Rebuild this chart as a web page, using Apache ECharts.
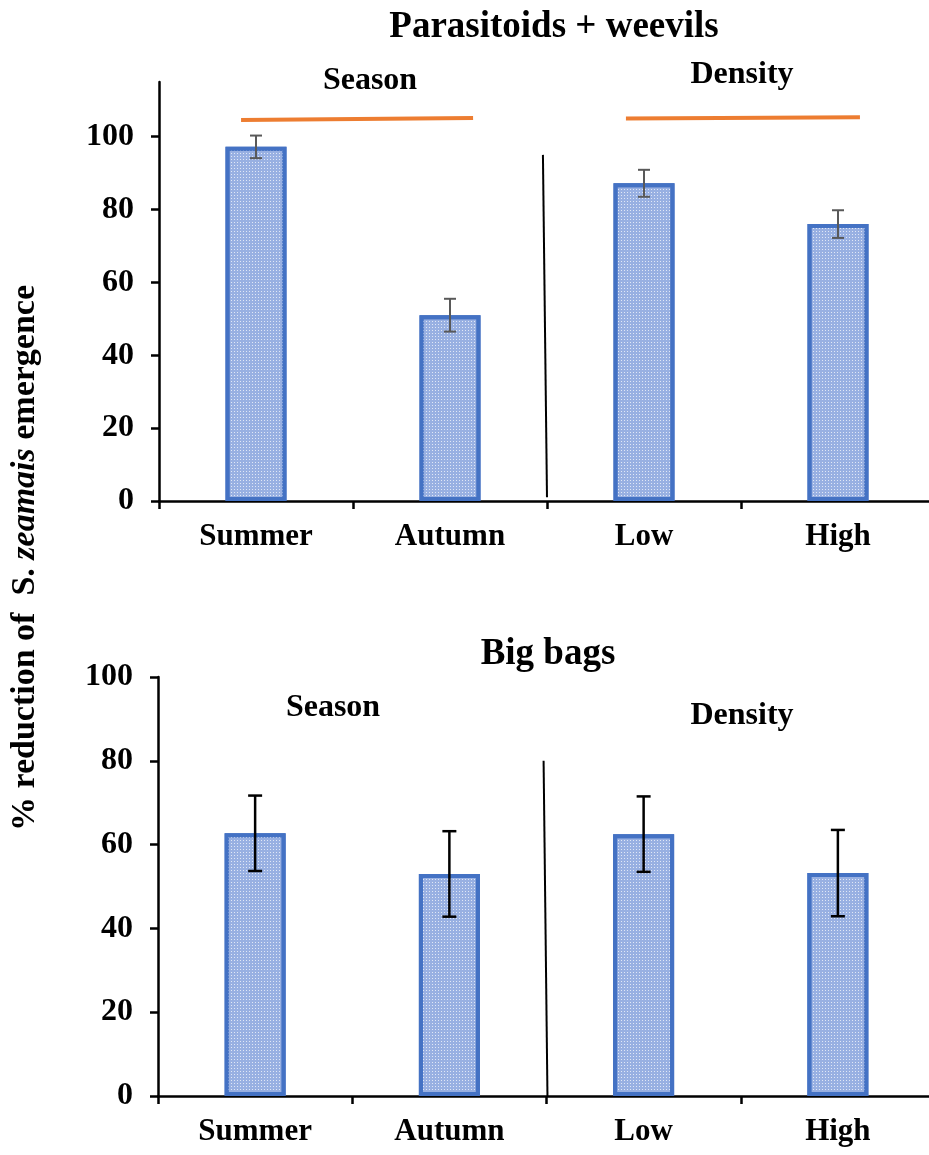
<!DOCTYPE html>
<html>
<head>
<meta charset="utf-8">
<title>S. zeamais emergence</title>
<script src="https://cdn.jsdelivr.net/npm/echarts@6/dist/echarts.min.js"></script>
<style>
  html, body { margin: 0; padding: 0; background: #fff; overflow: hidden; }
  /* plot area runs a few px past the right edge in the original */
  #chart { width: 936px; height: 1155px; }
</style>
</head>
<body>
<div id="chart"></div>
<script>
// categories and values
var categories = ['Summer', 'Autumn', 'Low', 'High'];
var parasitoidMean = [97.2, 51.0, 87.2, 76.0];
var parasitoidErr = [3.1, 4.5, 3.7, 3.8];
var bigBagMean = [62.7, 53.0, 62.5, 53.2];
var bigBagErr = [9.0, 10.2, 9.0, 10.3];
var yTicks = [0, 20, 40, 60, 80, 100];

// annotation lines (hidden 0-4 x scale, y in data units)
var topSeasonBar = [[0.423, 104.6], [1.619, 105.1]];
var topDensityBar = [[2.407, 105.0], [3.613, 105.3]];
var topDivider = [[1.979, 95], [2.0, 1]];
var bottomDivider = [[1.985, 80], [2.005, 0]];

var FONT = '"Liberation Serif", "Times New Roman", serif';

function yAxisOpt(idx, max) {
  return {
    type: 'value', gridIndex: idx, min: 0, max: max,
    axisLine: { show: true, lineStyle: { color: '#000', width: 2.5 } },
    axisTick: { show: true, length: 8, customValues: yTicks, lineStyle: { color: '#000', width: 2.5 } },
    axisLabel: { customValues: yTicks, color: '#000', fontFamily: FONT, fontWeight: 'bold', fontSize: 32, margin: 25 },
    splitLine: { show: false }
  };
}
function catAxisOpt(idx) {
  return {
    type: 'category', gridIndex: idx, data: categories,
    axisLine: { lineStyle: { color: '#000', width: 2.5 } },
    axisTick: { show: true, length: 8, lineStyle: { color: '#000', width: 2.5 } },
    axisLabel: { color: '#000', fontFamily: FONT, fontWeight: 'bold', fontSize: 31, margin: 20 }
  };
}
function hiddenAxis(idx) {
  return { type: 'value', gridIndex: idx, min: 0, max: 4, show: false };
}

function barSeries(idx, values) {
  return {
    type: 'bar', xAxisIndex: idx * 2, yAxisIndex: idx, data: values, barWidth: 61,
    itemStyle: {
      color: '#98b0e2', borderColor: '#4472c4', borderWidth: 4,
      decal: { symbol: 'rect', symbolSize: 1, dashArrayX: [1, 2], dashArrayY: [1, 2], color: 'rgba(255,255,255,0.7)' }
    },
    silent: true
  };
}

function errSeries(idx, means, errs, color, cap, lw) {
  var data = means.map(function (m, i) { return [i, m, errs[i]]; });
  return {
    type: 'custom', xAxisIndex: idx * 2, yAxisIndex: idx, data: data, z: 5,
    encode: { x: 0, y: 1 },
    renderItem: function (params, api) {
      var i = api.value(0), m = api.value(1), e = api.value(2);
      var hi = api.coord([i, m + e]);
      var lo = api.coord([i, m - e]);
      var st = { stroke: color, lineWidth: lw };
      return {
        type: 'group',
        children: [
          { type: 'line', shape: { x1: hi[0], y1: hi[1], x2: lo[0], y2: lo[1] }, style: st },
          { type: 'line', shape: { x1: hi[0] - cap, y1: hi[1], x2: hi[0] + cap, y2: hi[1] }, style: st },
          { type: 'line', shape: { x1: lo[0] - cap, y1: lo[1], x2: lo[0] + cap, y2: lo[1] }, style: st }
        ]
      };
    }
  };
}

function lineSeries(idx, pts, color, width) {
  return {
    type: 'line', xAxisIndex: idx * 2 + 1, yAxisIndex: idx, data: pts,
    symbol: 'none', silent: true, z: 6,
    lineStyle: { color: color, width: width }
  };
}

function txt(x, y, s, size) {
  return {
    type: 'text', x: x, y: y,
    style: { text: s, fill: '#000', font: 'bold ' + size + 'px ' + FONT, textAlign: 'center', textVerticalAlign: 'middle' }
  };
}

var chart = echarts.init(document.getElementById('chart'), null, { renderer: 'canvas' });
chart.setOption({
  animation: false,
  grid: [
    { left: 159, top: 82, right: 1, height: 419 },
    { left: 158, top: 677, right: 1, height: 419 }
  ],
  xAxis: [catAxisOpt(0), hiddenAxis(0), catAxisOpt(1), hiddenAxis(1)],
  yAxis: [yAxisOpt(0, 115), yAxisOpt(1, 100)],
  series: [
    barSeries(0, parasitoidMean),
    errSeries(0, parasitoidMean, parasitoidErr, '#595959', 6, 2),
    lineSeries(0, topSeasonBar, '#ed7d31', 4),
    lineSeries(0, topDensityBar, '#ed7d31', 4),
    lineSeries(0, topDivider, '#000', 2),
    barSeries(1, bigBagMean),
    errSeries(1, bigBagMean, bigBagErr, '#000', 7, 2.5),
    lineSeries(1, bottomDivider, '#000', 2)
  ],
  graphic: [
    txt(554, 27, 'Parasitoids + weevils', 37),
    txt(370, 81, 'Season', 32),
    txt(742, 75, 'Density', 32),
    txt(548, 654, 'Big bags', 37),
    txt(333, 708, 'Season', 32),
    txt(742, 716, 'Density', 32),
    {
      type: 'text', x: 25, y: 558, rotation: Math.PI / 2,
      style: {
        text: '{n|% reduction of  S. }{i|zeamais}{n| emergence}',
        textAlign: 'center', textVerticalAlign: 'middle',
        rich: {
          n: { fontFamily: FONT, fontWeight: 'bold', fontSize: 34, fill: '#000', color: '#000' },
          i: { fontFamily: FONT, fontWeight: 'bold', fontStyle: 'italic', fontSize: 34, fill: '#000', color: '#000' }
        }
      }
    }
  ]
});
</script>
</body>
</html>
